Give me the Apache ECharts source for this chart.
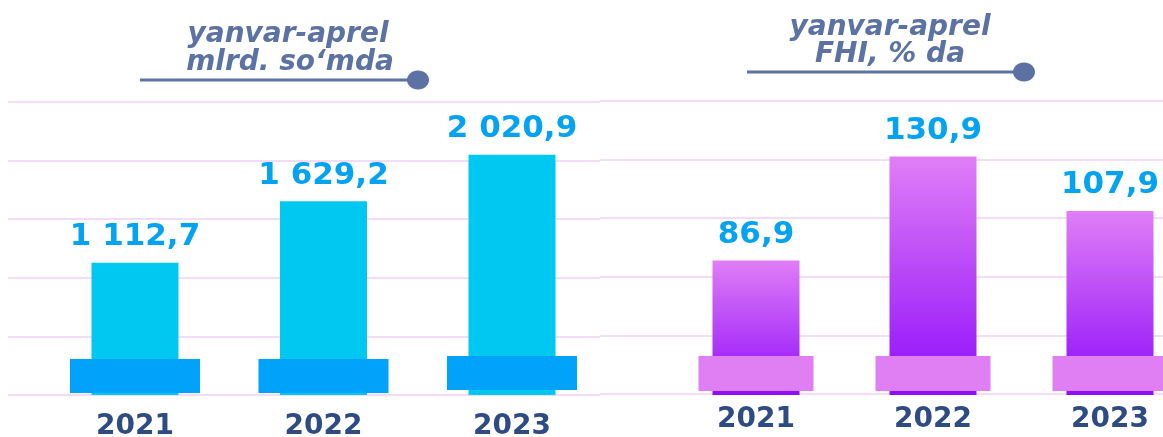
<!DOCTYPE html>
<html>
<head>
<meta charset="utf-8">
<script src="https://cdn.jsdelivr.net/npm/echarts@6/dist/echarts.min.js"></script>
<style>
  html, body { margin: 0; padding: 0; background: #ffffff; }
  #chart { width: 1163px; height: 437px; }
</style>
</head>
<body>
<div id="chart"></div>
<script>
// years on both panels
const years = ['2021', '2022', '2023']
// left panel: yanvar-aprel, mlrd. so'mda
const sumValues = [1112.7, 1629.2, 2020.9]
// right panel: yanvar-aprel, FHI % da
const fhiValues = [86.9, 130.9, 107.9]
// pedestal blocks under the bars (lift above the axis, then block height)
const sumPedLift = [17, 17, 42]
const sumPedHeight = [286, 286, 286]
const fhiPedLift = [31.7, 31.7, 31.7]
const fhiPedHeight = [14.8, 14.8, 14.8]
// six faint guide lines per panel
const guideTicks = [0, 1, 2, 3, 4, 5]

const FONT = 'DejaVu Sans'
const titleColor = '#5b72a3'
const valueColor = '#04a3f2'
const yearColor = '#2f4b83'
const guideColor = '#f3dcf6'
const titleFont = 'italic bold 28px "DejaVu Sans"'

const fmt = (v) => {
  const [i, d] = v.toFixed(1).split('.')
  return i.replace(/\B(?=(\d{3})+(?!\d))/g, ' ') + ',' + d
}

const chart = echarts.init(document.getElementById('chart'))

const valueLabel = {
  show: true,
  position: 'top',
  distance: 10,
  color: valueColor,
  fontFamily: FONT,
  fontWeight: 'bold',
  fontSize: 31,
  formatter: (p) => fmt(p.value),
}

const yearAxis = (gridIndex, margin) => ({
  type: 'category',
  gridIndex,
  data: years,
  axisLine: { show: false },
  axisTick: { show: false },
  axisLabel: {
    color: yearColor,
    fontFamily: FONT,
    fontWeight: 'bold',
    fontSize: 28,
    margin,
  },
  splitLine: { show: false },
})

const hiddenCat = (gridIndex) => ({
  type: 'category',
  gridIndex,
  data: years,
  show: false,
})

const hiddenVal = (gridIndex, min, max) => ({
  type: 'value',
  gridIndex,
  min,
  max,
  axisLine: { show: false },
  axisTick: { show: false },
  axisLabel: { show: false },
  splitLine: { show: false },
})

const guideY = (gridIndex) => ({
  type: 'value',
  gridIndex,
  min: guideTicks[0],
  max: guideTicks[guideTicks.length - 1],
  interval: 1,
  axisLine: { show: false },
  axisTick: { show: false },
  axisLabel: { show: false },
  splitLine: { show: true, lineStyle: { color: guideColor, width: 2 } },
})

const fixed = { outerBoundsMode: 'none', containLabel: false }

chart.setOption({
  animation: false,
  grid: [
    // guide line panels
    { ...fixed, left: 8, right: 563, top: 102, bottom: 42 },
    { ...fixed, left: 600, right: 0, top: 101, bottom: 43 },
    // bar panels
    { ...fixed, left: 40.75, width: 565.5, top: 102, bottom: 42 },
    { ...fixed, left: 667.5, width: 531, top: 102, bottom: 42 },
  ],
  xAxis: [
    { type: 'value', gridIndex: 0, min: 0, max: 1, show: false },
    { type: 'value', gridIndex: 1, min: 0, max: 1, show: false },
    yearAxis(2, 18),
    hiddenCat(2),
    yearAxis(3, 11),
    hiddenCat(3),
  ],
  yAxis: [
    guideY(0),
    guideY(1),
    hiddenVal(2, 0, 2465),
    hiddenVal(3, 30, 154),
  ],
  series: [
    {
      name: 'mlrd',
      type: 'bar',
      xAxisIndex: 2,
      yAxisIndex: 2,
      data: sumValues,
      barWidth: 87,
      itemStyle: { color: '#00c8f0' },
      label: valueLabel,
    },
    {
      type: 'bar',
      xAxisIndex: 3,
      yAxisIndex: 2,
      stack: 'pedL',
      data: sumPedLift,
      barWidth: 130,
      silent: true,
      itemStyle: { color: 'rgba(0,0,0,0)' },
    },
    {
      type: 'bar',
      xAxisIndex: 3,
      yAxisIndex: 2,
      stack: 'pedL',
      data: sumPedHeight,
      barWidth: 130,
      silent: true,
      itemStyle: { color: '#00a2fa' },
    },
    {
      name: 'FHI',
      type: 'bar',
      xAxisIndex: 4,
      yAxisIndex: 3,
      data: fhiValues,
      barWidth: 87,
      clip: true,
      itemStyle: {
        color: {
          type: 'linear',
          x: 0, y: 0, x2: 0, y2: 1,
          colorStops: [
            { offset: 0, color: '#e07ef6' },
            { offset: 1, color: '#8e0cfa' },
          ],
        },
      },
      label: valueLabel,
    },
    {
      type: 'bar',
      xAxisIndex: 5,
      yAxisIndex: 3,
      stack: 'pedR',
      data: fhiPedLift,
      barWidth: 115,
      clip: true,
      silent: true,
      itemStyle: { color: 'rgba(0,0,0,0)' },
    },
    {
      type: 'bar',
      xAxisIndex: 5,
      yAxisIndex: 3,
      stack: 'pedR',
      data: fhiPedHeight,
      barWidth: 115,
      clip: true,
      silent: true,
      itemStyle: { color: '#e07ef4' },
    },
  ],
  graphic: [
    {
      type: 'group',
      children: [
        { type: 'text', x: 288, y: 35, style: { text: 'yanvar-aprel', fill: titleColor, font: titleFont, align: 'center', verticalAlign: 'middle' } },
        { type: 'text', x: 290, y: 63, style: { text: 'mlrd. so‘mda', fill: titleColor, font: titleFont, align: 'center', verticalAlign: 'middle' } },
        { type: 'line', shape: { x1: 140, y1: 80, x2: 418, y2: 80 }, style: { stroke: titleColor, lineWidth: 3 } },
        { type: 'ellipse', shape: { cx: 418, cy: 80, rx: 11, ry: 9.5 }, style: { fill: titleColor } },
        { type: 'text', x: 890, y: 28, style: { text: 'yanvar-aprel', fill: titleColor, font: titleFont, align: 'center', verticalAlign: 'middle' } },
        { type: 'text', x: 890, y: 55, style: { text: 'FHI, % da', fill: titleColor, font: titleFont, align: 'center', verticalAlign: 'middle' } },
        { type: 'line', shape: { x1: 747, y1: 72, x2: 1024, y2: 72 }, style: { stroke: titleColor, lineWidth: 3 } },
        { type: 'ellipse', shape: { cx: 1024, cy: 72, rx: 11, ry: 9.5 }, style: { fill: titleColor } },
      ],
    },
  ],
})
</script>
</body>
</html>
